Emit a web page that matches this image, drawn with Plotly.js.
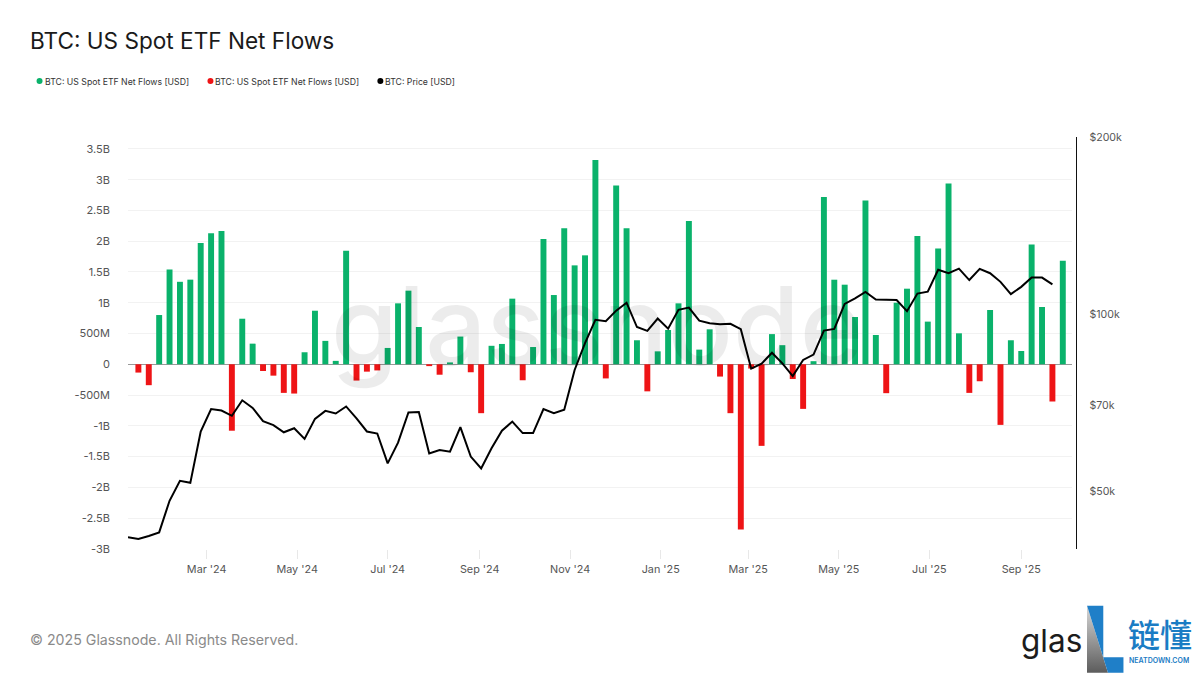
<!DOCTYPE html>
<html><head><meta charset="utf-8">
<script src="https://cdn.plot.ly/plotly-3.0.1.min.js"></script>
<style>html,body{margin:0;padding:0;background:#fff}#c{width:1200px;height:675px}</style>
</head><body><div id="c"></div>
<script>
const priceDates = ['2024-01-08','2024-01-15','2024-01-22','2024-01-29','2024-02-05','2024-02-12','2024-02-19','2024-02-26','2024-03-04','2024-03-11','2024-03-18','2024-03-25','2024-04-01','2024-04-08','2024-04-15','2024-04-22','2024-04-29','2024-05-06','2024-05-13','2024-05-20','2024-05-27','2024-06-03','2024-06-10','2024-06-17','2024-06-24','2024-07-01','2024-07-08','2024-07-15','2024-07-22','2024-07-29','2024-08-05','2024-08-12','2024-08-19','2024-08-26','2024-09-02','2024-09-09','2024-09-16','2024-09-23','2024-09-30','2024-10-07','2024-10-14','2024-10-21','2024-10-28','2024-11-04','2024-11-11','2024-11-18','2024-11-25','2024-12-02','2024-12-09','2024-12-16','2024-12-23','2024-12-30','2025-01-06','2025-01-13','2025-01-20','2025-01-27','2025-02-03','2025-02-10','2025-02-17','2025-02-24','2025-03-03','2025-03-10','2025-03-17','2025-03-24','2025-03-31','2025-04-07','2025-04-14','2025-04-21','2025-04-28','2025-05-05','2025-05-12','2025-05-19','2025-05-26','2025-06-02','2025-06-09','2025-06-16','2025-06-23','2025-06-30','2025-07-07','2025-07-14','2025-07-21','2025-07-28','2025-08-04','2025-08-11','2025-08-18','2025-08-25','2025-09-01','2025-09-08','2025-09-15','2025-09-22'];
const priceUsd = [41700,41400,41900,42500,48100,52000,51600,63100,68900,68500,67100,71300,69200,65700,64700,62900,63900,61300,66300,68400,67700,69600,66400,63100,62600,55700,60400,68000,68100,57900,58700,58300,64200,57200,54600,59100,63300,65600,62700,62700,68900,67800,68700,80300,89200,97700,97200,101300,104500,95000,93600,98200,94400,101600,102500,97400,96400,96000,96200,94200,80700,82300,85900,82400,78400,83500,85300,93700,94300,104000,106300,109000,105800,105800,105600,101100,108300,109100,118900,117300,119400,114200,119300,117300,113400,108100,111200,115300,115300,112300];
const flowDates = ['2024-01-15','2024-01-22','2024-01-29','2024-02-05','2024-02-12','2024-02-19','2024-02-26','2024-03-04','2024-03-11','2024-03-18','2024-03-25','2024-04-01','2024-04-08','2024-04-15','2024-04-22','2024-04-29','2024-05-06','2024-05-13','2024-05-20','2024-05-27','2024-06-03','2024-06-10','2024-06-17','2024-06-24','2024-07-01','2024-07-08','2024-07-15','2024-07-22','2024-07-29','2024-08-05','2024-08-12','2024-08-19','2024-08-26','2024-09-02','2024-09-09','2024-09-16','2024-09-23','2024-09-30','2024-10-07','2024-10-14','2024-10-21','2024-10-28','2024-11-04','2024-11-11','2024-11-18','2024-11-25','2024-12-02','2024-12-09','2024-12-16','2024-12-23','2024-12-30','2025-01-06','2025-01-13','2025-01-20','2025-01-27','2025-02-03','2025-02-10','2025-02-17','2025-02-24','2025-03-03','2025-03-10','2025-03-17','2025-03-24','2025-03-31','2025-04-07','2025-04-14','2025-04-21','2025-04-28','2025-05-05','2025-05-12','2025-05-19','2025-05-26','2025-06-02','2025-06-09','2025-06-16','2025-06-23','2025-06-30','2025-07-07','2025-07-14','2025-07-21','2025-07-28','2025-08-04','2025-08-11','2025-08-18','2025-08-25','2025-09-01','2025-09-08','2025-09-15','2025-09-22','2025-09-29'];
const netFlowsB = [-0.135,-0.34,0.80,1.54,1.34,1.375,1.97,2.13,2.165,-1.08,0.74,0.335,-0.11,-0.185,-0.465,-0.476,0.195,0.87,0.38,0.055,1.845,-0.265,-0.12,-0.10,0.265,0.99,1.196,0.606,-0.03,-0.17,0.03,0.45,-0.13,-0.795,0.30,0.33,1.066,-0.26,0.28,2.035,1.125,2.21,1.607,1.77,3.32,-0.23,2.906,2.21,0.39,-0.44,0.21,0.557,0.99,2.327,0.238,0.568,-0.2,-0.795,-2.687,-0.07,-1.326,0.49,0.31,-0.24,-0.725,0.05,2.716,1.374,1.293,0.768,2.66,0.476,-0.47,1.0,1.228,2.083,0.693,1.883,2.938,0.503,-0.465,-0.276,0.882,-0.985,0.39,0.216,1.948,0.93,-0.606,1.683];
const flowTicks = [3.5e9,3e9,2.5e9,2e9,1.5e9,1e9,5e8,0,-5e8,-1e9,-1.5e9,-2e9,-2.5e9,-3e9];
const flowTickLabels = ['3.5B','3B','2.5B','2B','1.5B','1B','500M','0','-500M','-1B','-1.5B','-2B','-2.5B','-3B'];
const priceTicks = [50000,70000,100000,200000];
const priceTickLabels = ['$50k','$70k','$100k','$200k'];
const monthTicks = ['2024-03-01','2024-05-01','2024-07-01','2024-09-01','2024-11-01','2025-01-01','2025-03-01','2025-05-01','2025-07-01','2025-09-01'];
const monthLabels = ["Mar '24","May '24","Jul '24","Sep '24","Nov '24","Jan '25","Mar '25","May '25","Jul '25","Sep '25"];
const legendLabels = ['BTC: US Spot ETF Net Flows [USD]','BTC: US Spot ETF Net Flows [USD]','BTC: Price [USD]'];
const GREEN='#0ab26b', RED='#ee1416', FONT='Inter, "Noto Sans", sans-serif';

const L=127.5,R=1076,T=137,B=549.5;
const px=x=>(x-L)/(R-L), py=y=>(B-y)/(B-T);
const pos=[],neg=[];
flowDates.forEach((d,i)=>{(netFlowsB[i]>=0?pos:neg).push([d,netFlowsB[i]*1e9]);});
const W=4*864e5;
const traces=[
 {type:'bar',name:legendLabels[0],x:pos.map(p=>p[0]),y:pos.map(p=>p[1]),width:W,marker:{color:GREEN,line:{width:0}},showlegend:false},
 {type:'bar',name:legendLabels[1],x:neg.map(p=>p[0]),y:neg.map(p=>p[1]),width:W,marker:{color:RED,line:{width:0}},showlegend:false},
 {type:'scatter',mode:'lines',name:legendLabels[2],x:priceDates,y:priceUsd,yaxis:'y2',line:{color:'#000',width:2},showlegend:false,cliponaxis:false}
];
const txt=(x,y,text,size,color,extra)=>Object.assign({xref:'paper',yref:'paper',x:px(x),y:py(y),text,showarrow:false,xanchor:'left',yanchor:'middle',borderpad:0,borderwidth:0,font:{family:FONT,size,color}},extra||{});
const annotations=[
 txt(44,81.5,legendLabels[0],8.7,'#333'),
 txt(215,81.5,legendLabels[1],8.7,'#333'),
 txt(385,81.5,legendLabels[2],8.7,'#333'),
 txt(29,641,'© 2025 Glassnode. All Rights Reserved.',14.2,'#8a8a8a'),
 txt(1021,641,'glas',31.5,'#1c1c1c'),
 txt(1128,634,'链懂',32,'#1a7cc4',{font:{family:'"Noto Sans CJK SC"',size:32,color:'#1a7cc4',weight:500}}),
 txt(1129,661,'NEATDOWN.COM',7,'#1a7cc4',{height:8,font:{family:'Inter',size:7,color:'#1a7cc4',weight:600}}),
 txt(597,326,'glassnode',108,'rgba(0,0,0,0.075)',{xanchor:'center',font:{family:FONT,size:108,color:'rgba(0,0,0,0.075)',weight:500}})
];
const dot=(cx,cy,r,c)=>({type:'circle',xref:'paper',yref:'paper',x0:px(cx-r),x1:px(cx+r),y0:py(cy+r),y1:py(cy-r),fillcolor:c,line:{width:0}});
const logo='<svg xmlns="http://www.w3.org/2000/svg" viewBox="0 0 37 68"><defs><linearGradient id="g" x1="0" y1="0" x2="0" y2="1"><stop offset="0" stop-color="#d8d8d8"/><stop offset="1" stop-color="#5c5c5c"/></linearGradient></defs><path d="M0 0L21 67.5L0 67.5Z" fill="url(#g)"/><path d="M0 0L16.3 0L16.3 52L36.5 52L36.5 67.5L21 67.5Z" fill="#1f7fc8"/></svg>';
const layout={
 width:1200,height:675,paper_bgcolor:'#fff',plot_bgcolor:'#fff',
 margin:{l:L,r:1200-R,t:T,b:675-B,pad:0},
 font:{family:FONT,size:11,color:'#555'},
 title:{text:'BTC: US Spot ETF Net Flows',x:30/1200,xanchor:'left',y:1-41/675,yanchor:'middle',font:{family:FONT,size:22.6,color:'#1a1a1a'}},
 barmode:'overlay',showlegend:false,
 xaxis:{type:'date',domain:[0,px(1071.7)],range:['2024-01-08','2025-10-05'],tickmode:'array',tickvals:monthTicks,ticktext:monthLabels,ticks:'outside',ticklen:9,tickwidth:1,tickcolor:'#e8e8e8',ticklabelstandoff:1,showgrid:false,showline:false,zeroline:false,tickfont:{size:10.8,color:'#555'}},
 yaxis:{range:[-3.002e9,3.693e9],tickmode:'array',tickvals:flowTicks,ticktext:flowTickLabels,showgrid:true,gridcolor:'#f2f2f2',gridwidth:1,zeroline:true,zerolinecolor:'#999',zerolinewidth:1,ticks:'',ticklabelstandoff:17,tickfont:{size:11,color:'#555'},showline:false},
 yaxis2:{type:'log',overlaying:'y',side:'right',anchor:'free',position:1,range:[Math.log10(39820),Math.log10(200000)],tickmode:'array',tickvals:priceTicks,ticktext:priceTickLabels,showgrid:false,zeroline:false,showline:true,linecolor:'#111',linewidth:1.3,ticks:'',ticklabelstandoff:10,tickfont:{size:10.6,color:'#555'}},
 annotations,
 shapes:[dot(39,81,3,GREEN),dot(210,81,3,RED),dot(380,81,3,'#000')],
 images:[{source:'data:image/svg+xml;charset=utf-8,'+encodeURIComponent(logo),xref:'paper',yref:'paper',x:px(1087),y:py(606),sizex:px(1124)-px(1087),sizey:py(606)-py(674),xanchor:'left',yanchor:'top',sizing:'stretch',layer:'above'}]
};
Plotly.newPlot('c',traces,layout,{displayModeBar:false,staticPlot:true});
</script></body></html>
